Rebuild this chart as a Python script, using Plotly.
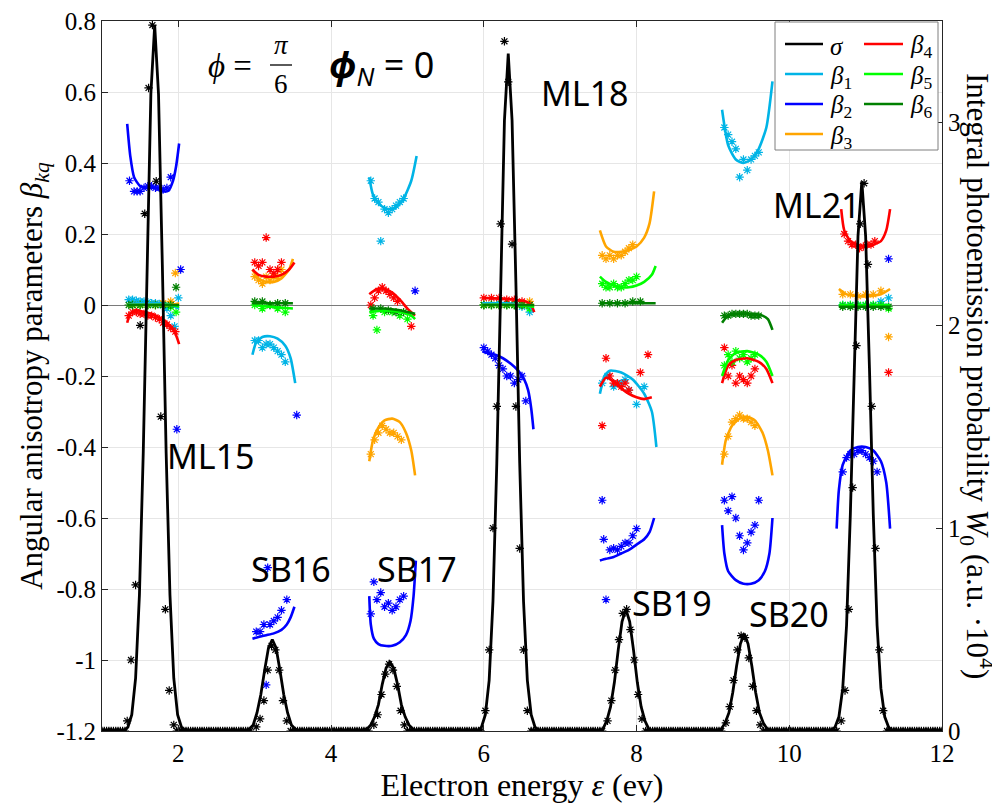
import plotly.graph_objects as go
import numpy as np

# ---------------- DATA ----------------
# sigma (integral photoemission probability W0, right axis) : fitted profile per peak
peak_names = ["ML15", "SB16", "SB17", "ML18", "SB19", "SB20", "ML21"]
peak_centers = [1.69, 3.23, 4.77, 6.32, 7.86, 9.41, 10.95]
profile_dx = [-0.40, -0.35, -0.30, -0.25, -0.20, -0.15, -0.10, -0.05, 0.0,
              0.05, 0.10, 0.15, 0.20, 0.25, 0.30, 0.35, 0.40]
w0_ML15 = [0.0, 0.02, 0.08, 0.26, 0.67, 1.37, 2.30, 3.14, 3.48, 3.14, 2.30, 1.37, 0.67, 0.26, 0.08, 0.02, 0.0]
w0_SB16 = [0.0, 0.0, 0.01, 0.03, 0.09, 0.18, 0.30, 0.41, 0.45, 0.41, 0.30, 0.18, 0.09, 0.03, 0.01, 0.0, 0.0]
w0_SB17 = [0.0, 0.0, 0.01, 0.03, 0.07, 0.13, 0.23, 0.31, 0.34, 0.31, 0.23, 0.13, 0.07, 0.03, 0.01, 0.0, 0.0]
w0_ML18 = [0.0, 0.02, 0.08, 0.25, 0.64, 1.32, 2.21, 3.01, 3.34, 3.01, 2.21, 1.32, 0.64, 0.25, 0.08, 0.02, 0.0]
w0_SB19 = [0.0, 0.0, 0.01, 0.05, 0.12, 0.24, 0.40, 0.54, 0.60, 0.54, 0.40, 0.24, 0.12, 0.05, 0.01, 0.0, 0.0]
w0_SB20 = [0.0, 0.0, 0.01, 0.04, 0.09, 0.19, 0.32, 0.43, 0.48, 0.43, 0.32, 0.19, 0.09, 0.04, 0.01, 0.0, 0.0]
w0_ML21 = [0.0, 0.02, 0.07, 0.21, 0.52, 1.07, 1.79, 2.44, 2.71, 2.44, 1.79, 1.07, 0.52, 0.21, 0.07, 0.02, 0.0]
w0_profiles = [w0_ML15, w0_SB16, w0_SB17, w0_ML18, w0_SB19, w0_SB20, w0_ML21]
x_min, x_max = 1.0, 12.0

# sigma data points (black asterisks) near peaks
sig_pts_x = [1.33, 1.38, 1.44, 1.50, 1.56, 1.61, 1.66, 1.71, 1.77, 1.83, 1.88, 1.94,
             3.02, 3.07, 3.12, 3.17, 3.22, 3.27, 3.32, 3.37, 3.42,
             4.56, 4.61, 4.66, 4.71, 4.76, 4.81, 4.86, 4.91, 4.96,
             6.02, 6.07, 6.12, 6.17, 6.22, 6.27, 6.32, 6.37, 6.42, 6.47, 6.52, 6.57,
             7.62, 7.67, 7.72, 7.77, 7.82, 7.87, 7.92, 7.97, 8.02, 8.07,
             9.17, 9.22, 9.27, 9.32, 9.37, 9.42, 9.47, 9.52, 9.57, 9.62,
             10.68, 10.73, 10.78, 10.83, 10.88, 10.93, 10.98, 11.03, 11.08, 11.13, 11.18, 11.23]
sig_pts_w = [0.05, 0.35, 0.72, 2.00, 2.55, 3.17, 3.48, 2.71, 1.55, 0.60, 0.20, 0.03,
             0.02, 0.06, 0.15, 0.30, 0.42, 0.40, 0.30, 0.15, 0.05,
             0.03, 0.08, 0.18, 0.28, 0.33, 0.30, 0.22, 0.10, 0.03,
             0.10, 0.40, 1.00, 1.60, 2.50, 3.40, 3.20, 2.40, 1.60, 0.90, 0.40, 0.10,
             0.05, 0.15, 0.30, 0.45, 0.58, 0.60, 0.50, 0.35, 0.18, 0.06,
             0.04, 0.12, 0.25, 0.40, 0.47, 0.46, 0.36, 0.22, 0.10, 0.03,
             0.05, 0.20, 0.60, 1.20, 1.90, 2.50, 2.70, 2.30, 1.60, 0.90, 0.40, 0.10]
# energy ranges where the measured sigma points lie on zero
sig_zero_ranges = [(1.0, 1.30), (1.98, 2.95), (3.47, 4.50), (5.0, 5.97), (6.62, 7.57),
                   (8.12, 9.13), (9.66, 10.64), (11.28, 12.0)]
sig_zero_step = 0.03

# ---- beta_k lines (None separates harmonic windows) ----
b1_lx = [1.33, 1.45, 1.6, 1.75, 1.9, 2.01, None,
         2.97, 3.02, 3.1, 3.2, 3.3, 3.4, 3.47, 3.53, None,
         4.5, 4.55, 4.65, 4.75, 4.85, 4.95, 5.05, 5.12, None,
         5.98, 6.1, 6.3, 6.5, 6.6, 6.66, None,
         7.52, 7.58, 7.65, 7.8, 7.95, 8.1, 8.2, 8.26, None,
         9.12, 9.2, 9.3, 9.4, 9.5, 9.6, 9.7, 9.78, None,
         10.65, 10.8, 11.0, 11.2, 11.32]
b1_ly = [0.0, 0.005, 0.005, 0.005, 0.0, -0.01, None,
         -0.14, -0.105, -0.09, -0.088, -0.095, -0.115, -0.15, -0.22, None,
         0.36, 0.31, 0.28, 0.27, 0.275, 0.3, 0.35, 0.42, None,
         0.005, 0.005, 0.005, 0.0, -0.005, -0.02, None,
         -0.25, -0.2, -0.185, -0.19, -0.21, -0.25, -0.3, -0.4, None,
         0.55, 0.45, 0.41, 0.40, 0.41, 0.44, 0.5, 0.63, None,
         0.0, 0.0, 0.0, 0.0, 0.0]
b2_lx = [1.33, 1.37, 1.42, 1.5, 1.6, 1.7, 1.8, 1.87, 1.93, 1.97, 2.01, None,
         2.97, 3.05, 3.15, 3.25, 3.35, 3.42, 3.47, 3.52, None,
         4.5, 4.52, 4.56, 4.62, 4.7, 4.8, 4.9, 4.98, 5.04, 5.08, 5.11, None,
         5.98, 6.05, 6.15, 6.25, 6.35, 6.45, 6.53, 6.58, 6.62, 6.65, None,
         7.52, 7.6, 7.7, 7.8, 7.9, 8.0, 8.1, 8.17, 8.23, None,
         9.12, 9.15, 9.2, 9.3, 9.4, 9.5, 9.6, 9.68, 9.74, 9.78, None,
         10.62, 10.65, 10.7, 10.8, 10.9, 11.0, 11.1, 11.2, 11.27, 11.32]
b2_ly = [0.51, 0.42, 0.36, 0.335, 0.33, 0.33, 0.32, 0.322, 0.35, 0.39, 0.455, None,
         -0.94, -0.935, -0.93, -0.925, -0.915, -0.9, -0.88, -0.85, None,
         -0.82, -0.9, -0.94, -0.955, -0.96, -0.96, -0.95, -0.93, -0.89, -0.82, -0.72, None,
         -0.13, -0.135, -0.14, -0.15, -0.165, -0.185, -0.21, -0.24, -0.29, -0.35, None,
         -0.72, -0.715, -0.71, -0.7, -0.69, -0.675, -0.66, -0.64, -0.6, None,
         -0.62, -0.7, -0.75, -0.775, -0.785, -0.785, -0.775, -0.75, -0.7, -0.6, None,
         -0.63, -0.52, -0.45, -0.41, -0.4, -0.4, -0.41, -0.44, -0.5, -0.63]
b3_lx = [1.33, 1.6, 1.9, 2.01, None,
         2.97, 3.05, 3.15, 3.25, 3.35, 3.45, 3.5, None,
         4.5, 4.55, 4.62, 4.7, 4.8, 4.9, 4.98, 5.05, 5.1, None,
         5.98, 6.3, 6.66, None,
         7.52, 7.6, 7.7, 7.8, 7.9, 8.0, 8.1, 8.17, 8.23, None,
         9.12, 9.17, 9.25, 9.35, 9.45, 9.55, 9.65, 9.72, 9.78, None,
         10.65, 10.75, 10.9, 11.05, 11.2, 11.32]
b3_ly = [0.0, 0.0, 0.0, 0.005, None,
         0.1, 0.075, 0.065, 0.065, 0.075, 0.1, 0.13, None,
         -0.44, -0.38, -0.345, -0.325, -0.32, -0.33, -0.36, -0.41, -0.48, None,
         0.0, 0.0, 0.0, None,
         0.21, 0.165, 0.15, 0.15, 0.155, 0.165, 0.19, 0.23, 0.32, None,
         -0.45, -0.38, -0.34, -0.32, -0.315, -0.325, -0.36, -0.41, -0.48, None,
         0.045, 0.03, 0.025, 0.025, 0.03, 0.045]
b4_lx = [1.33, 1.37, 1.45, 1.55, 1.65, 1.75, 1.85, 1.92, 1.97, 2.01, None,
         2.97, 3.05, 3.15, 3.25, 3.35, 3.45, 3.52, None,
         4.5, 4.6, 4.7, 4.8, 4.9, 5.0, 5.1, None,
         5.98, 6.2, 6.4, 6.55, 6.62, 6.66, None,
         7.52, 7.6, 7.7, 7.8, 7.9, 8.0, 8.1, 8.2, None,
         9.12, 9.2, 9.3, 9.45, 9.6, 9.7, 9.78, None,
         10.68, 10.72, 10.8, 10.9, 11.0, 11.1, 11.2, 11.27, 11.32]
b4_ly = [-0.05, -0.025, -0.015, -0.02, -0.025, -0.035, -0.05, -0.065, -0.085, -0.11, None,
         0.1, 0.085, 0.08, 0.08, 0.085, 0.1, 0.12, None,
         0.03, 0.045, 0.045, 0.035, 0.015, -0.01, -0.03, None,
         0.02, 0.018, 0.015, 0.01, 0.0, -0.02, None,
         -0.23, -0.205, -0.215, -0.235, -0.25, -0.26, -0.265, -0.26, None,
         -0.22, -0.17, -0.155, -0.15, -0.16, -0.18, -0.22, None,
         0.27, 0.21, 0.18, 0.17, 0.165, 0.17, 0.18, 0.21, 0.27]
b5_lx = [1.33, 1.6, 1.9, 2.01, None,
         2.97, 3.2, 3.5, None,
         4.5, 4.7, 4.9, 5.05, 5.1, None,
         5.98, 6.3, 6.66, None,
         7.52, 7.6, 7.7, 7.8, 7.9, 8.0, 8.1, 8.2, 8.25, None,
         9.12, 9.2, 9.3, 9.45, 9.6, 9.7, 9.78, None,
         10.65, 11.0, 11.32]
b5_ly = [0.0, 0.0, 0.0, -0.005, None,
         0.0, -0.005, -0.01, None,
         -0.02, -0.015, -0.02, -0.03, -0.04, None,
         0.0, 0.0, -0.005, None,
         0.08, 0.065, 0.055, 0.05, 0.05, 0.055, 0.065, 0.085, 0.11, None,
         -0.2, -0.155, -0.135, -0.13, -0.14, -0.16, -0.2, None,
         0.0, 0.0, 0.0]
b6_lx = [1.33, 1.6, 1.9, 2.01, None,
         2.97, 3.2, 3.5, None,
         4.5, 4.7, 4.9, 5.1, None,
         5.98, 6.3, 6.66, None,
         7.52, 7.9, 8.25, None,
         9.12, 9.2, 9.35, 9.5, 9.65, 9.72, 9.78, None,
         10.65, 11.0, 11.32]
b6_ly = [0.0, 0.0, 0.0, 0.0, None,
         0.005, 0.005, 0.005, None,
         -0.01, -0.01, -0.015, -0.025, None,
         0.0, 0.0, 0.0, None,
         0.005, 0.005, 0.005, None,
         -0.05, -0.03, -0.025, -0.025, -0.03, -0.04, -0.07, None,
         -0.005, -0.005, -0.005]

# ---- beta_k data points (asterisks) ----
b1_px = [1.35, 1.4, 1.45, 1.5, 1.55, 1.6, 1.65, 1.7, 1.75, 1.8, 1.85, 1.9, 1.95, 2.0,
         3.0, 3.05, 3.1, 3.15, 3.2, 3.25, 3.3, 3.35, 3.4,
         4.52, 4.57, 4.62, 4.65, 4.7, 4.75, 4.8, 4.85, 4.9, 4.95,
         6.0, 6.1, 6.2, 6.3, 6.4, 6.5, 6.6,
         7.55, 7.62, 7.7, 7.75, 7.8, 7.85, 7.9, 8.0, 8.1,
         9.15, 9.2, 9.25, 9.3, 9.35, 9.4, 9.45, 9.5, 9.55, 9.6,
         10.7, 10.8, 10.9, 11.0, 11.1, 11.2, 11.3]
b1_py = [0.015, 0.015, 0.012, 0.01, 0.01, 0.008, 0.005, 0.005, 0.003, 0.0, -0.01, -0.03, -0.06, 0.02,
         -0.1, -0.1, -0.12, -0.11, -0.11, -0.12, -0.13, -0.14, -0.16,
         0.35, 0.3, 0.29, 0.18, 0.27, 0.26, 0.27, 0.28, 0.29, 0.3,
         0.0, 0.0, 0.005, 0.0, 0.0, -0.005, -0.02,
         -0.22, -0.2, -0.23, -0.22, -0.22, -0.21, -0.24, -0.28, -0.23,
         0.5, 0.48, 0.46, 0.44, 0.36, 0.41, 0.38, 0.41, 0.42, 0.43,
         0.0, 0.0, 0.0, 0.0, 0.0, 0.01, 0.02]
b2_px = [1.36, 1.42, 1.46, 1.5, 1.55, 1.6, 1.65, 1.7, 1.75, 1.8, 1.85, 1.9, 2.03, 1.98,
         3.02, 3.07, 3.12, 3.17, 3.2, 3.25, 3.3, 3.35, 3.42, 3.15, 3.55,
         4.52, 4.56, 4.6, 4.65, 4.7, 4.75, 4.8, 4.85, 4.9, 4.95, 5.1,
         6.0, 6.05, 6.1, 6.15, 6.2, 6.25, 6.3, 6.35, 6.4, 6.45, 6.5, 6.55,
         7.55, 7.57, 7.6, 7.65, 7.7, 7.75, 7.8, 7.85, 7.9, 7.95, 8.0,
         9.15, 9.2, 9.25, 9.3, 9.35, 9.4, 9.45, 9.5, 9.55, 9.6,
         10.7, 10.75, 10.8, 10.85, 10.9, 10.95, 11.0, 11.05, 11.1, 11.15, 11.3]
b2_py = [0.35, 0.32, 0.32, 0.32, 0.33, 0.335, 0.335, 0.33, 0.33, 0.325, 0.33, 0.36, 0.1, -0.35,
         -0.92, -0.92, -0.9, -0.74, -0.9, -0.89, -0.88, -0.86, -0.83, -1.07, -0.31,
         -0.87, -0.78, -0.83, -0.81, -0.85, -0.84, -0.86, -0.85, -0.83, -0.82, 0.04,
         -0.12, -0.13, -0.14, -0.15, -0.17, -0.18, -0.2, -0.2, -0.22, -0.21, -0.2, -0.27,
         -0.55, -0.66, -0.83, -0.69, -0.685, -0.69, -0.68, -0.67, -0.67, -0.65, -0.63,
         -0.55, -0.58, -0.54, -0.6, -0.65, -0.69, -0.67, -0.64, -0.62, -0.55,
         -0.47, -0.43, -0.42, -0.42, -0.41, -0.41, -0.42, -0.43, -0.44, -0.47, 0.13]
b3_px = [1.4, 1.5, 1.6, 1.7, 1.8, 1.9, 1.96,
         3.0, 3.05, 3.1, 3.15, 3.2, 3.25, 3.3, 3.35,
         4.52, 4.57, 4.62, 4.67, 4.72, 4.77, 4.82, 4.87, 4.92,
         6.0, 6.1, 6.2, 6.3, 6.4, 6.5, 6.6,
         7.55, 7.6, 7.65, 7.7, 7.75, 7.8, 7.85, 7.9, 7.95,
         9.15, 9.2, 9.25, 9.3, 9.35, 9.4, 9.45, 9.5, 9.55,
         10.7, 10.8, 10.9, 11.0, 11.1, 11.2, 11.3]
b3_py = [0.0, 0.0, 0.0, 0.0, 0.005, 0.01, 0.09,
         0.08, 0.07, 0.06, 0.08, 0.07, 0.08, 0.08, 0.1,
         -0.42, -0.38, -0.36, -0.34, -0.35, -0.36, -0.36, -0.37, -0.38,
         0.0, 0.0, 0.0, 0.0, 0.0, 0.0, 0.01,
         0.14, 0.13, 0.14, 0.13, 0.14, 0.14, 0.15, 0.16, 0.17,
         -0.42, -0.37, -0.33, -0.32, -0.31, -0.32, -0.32, -0.33, -0.34,
         0.03, 0.03, 0.025, 0.03, 0.03, 0.04, -0.09]
b4_px = [1.35, 1.4, 1.45, 1.5, 1.55, 1.6, 1.65, 1.7, 1.75, 1.8, 1.85, 1.9, 1.96,
         3.0, 3.05, 3.1, 3.15, 3.2, 3.25, 3.3, 3.35,
         4.52, 4.57, 4.62, 4.67, 4.72, 4.77, 4.82, 4.87, 5.05,
         6.0, 6.1, 6.2, 6.3, 6.4, 6.5, 6.6,
         7.55, 7.6, 7.65, 7.7, 7.75, 7.8, 7.85, 7.9, 8.05, 8.15,
         9.15, 9.2, 9.25, 9.3, 9.35, 9.4, 9.45, 9.5, 9.55,
         10.72, 10.77, 10.82, 10.87, 10.92, 10.97, 11.02, 11.07, 11.12, 11.3]
b4_py = [-0.03, -0.02, -0.02, -0.025, -0.025, -0.03, -0.03, -0.035, -0.04, -0.05, -0.055, -0.065, -0.075,
         0.12, 0.11, 0.12, 0.19, 0.1, 0.09, 0.1, 0.12,
         0.0, 0.02, 0.04, 0.05, 0.04, 0.03, 0.02, 0.01, -0.06,
         0.02, 0.02, 0.02, 0.015, 0.015, 0.01, 0.0,
         -0.34, -0.15, -0.2, -0.22, -0.22, -0.23, -0.22, -0.24, -0.19, -0.14,
         -0.12, -0.2, -0.17, -0.22, -0.2, -0.21, -0.22, -0.2, -0.18,
         0.2, 0.18, 0.17, 0.17, 0.16, 0.165, 0.17, 0.17, 0.18, -0.19]
b5_px = [1.4, 1.5, 1.6, 1.7, 1.8, 1.9, 1.97,
         3.0, 3.1, 3.2, 3.3, 3.4,
         4.55, 4.6, 4.7, 4.8, 4.9, 5.0,
         6.0, 6.1, 6.2, 6.3, 6.4, 6.5, 6.6,
         7.55, 7.6, 7.65, 7.7, 7.75, 7.8, 7.85, 7.9, 7.95, 8.0,
         9.15, 9.2, 9.25, 9.3, 9.35, 9.4, 9.45, 9.5, 9.55,
         10.7, 10.8, 10.9, 11.0, 11.1, 11.2, 11.3]
b5_py = [0.0, 0.0, 0.0, 0.0, 0.0, -0.005, -0.02,
         0.0, -0.01, 0.0, -0.01, -0.02,
         -0.03, -0.07, -0.02, -0.02, -0.03, -0.04,
         0.0, 0.0, 0.0, 0.0, 0.0, 0.0, -0.01,
         0.06, 0.05, 0.05, 0.06, 0.05, 0.05, 0.06, 0.07, 0.07, 0.08,
         -0.17, -0.14, -0.16, -0.13, -0.15, -0.14, -0.16, -0.15, -0.14,
         0.0, 0.0, 0.0, 0.0, 0.0, 0.0, -0.01]
b6_px = [1.35, 1.4, 1.5, 1.6, 1.7, 1.8, 1.9, 1.97,
         3.0, 3.1, 3.2, 3.3, 3.4,
         4.55, 4.65, 4.75, 4.85, 4.95,
         6.0, 6.1, 6.2, 6.3, 6.4, 6.5, 6.6,
         7.55, 7.65, 7.75, 7.85, 7.95, 8.05,
         9.15, 9.2, 9.25, 9.3, 9.35, 9.4, 9.45, 9.5, 9.55, 9.6,
         10.7, 10.8, 10.9, 11.0, 11.1, 11.2, 11.3]
b6_py = [0.0, 0.0, 0.0, 0.0, 0.0, 0.0, 0.0, 0.05,
         0.01, 0.01, 0.0, 0.005, 0.005,
         -0.01, -0.01, -0.015, -0.02, -0.02,
         0.0, 0.0, 0.0, 0.0, 0.0, 0.0, 0.0,
         0.005, 0.005, 0.005, 0.005, 0.01, 0.01,
         -0.03, -0.03, -0.025, -0.025, -0.025, -0.025, -0.025, -0.03, -0.03, -0.03,
         -0.005, -0.005, -0.005, -0.005, -0.005, -0.005, -0.005]

beta_names = ["β<sub>1</sub>", "β<sub>2</sub>", "β<sub>3</sub>", "β<sub>4</sub>", "β<sub>5</sub>", "β<sub>6</sub>"]
beta_colors = ["#00B4E6", "#0000FF", "#FFA500", "#FF0000", "#00FF00", "#008000"]
sigma_color = "#000000"

# peak labels (text, x, y) in data units of the left axis
label_text = ["ML15", "SB16", "SB17", "ML18", "SB19", "SB20", "ML21"]
label_x = [2.43, 3.47, 5.12, 7.32, 8.46, 9.99, 10.36]
label_y = [-0.425, -0.745, -0.745, 0.597, -0.84, -0.87, 0.282]

# ---------------- FIGURE ----------------
# the page body adds an 8 px offset; plot area in screenshot pixels: x 102..942, y 21..731
OFF = 8
W, H = 1000 - OFF, 808 - OFF
L, R, T, B = 102 - OFF, 58, 21 - OFF, 77
PX0, PX1, PY0, PY1 = 102, 942, 21, 731


def px2paper(px, py):
    return (px - PX0) / (PX1 - PX0), (PY1 - py) / (PY1 - PY0)


fig = go.Figure()

line_sets = [(b1_lx, b1_ly), (b2_lx, b2_ly), (b3_lx, b3_ly), (b4_lx, b4_ly), (b5_lx, b5_ly), (b6_lx, b6_ly)]
pt_sets = [(b1_px, b1_py), (b2_px, b2_py), (b3_px, b3_py), (b4_px, b4_py), (b5_px, b5_py), (b6_px, b6_py)]

for k in range(6):
    px, py = pt_sets[k]
    fig.add_trace(go.Scatter(x=px, y=py, mode="markers", yaxis="y", showlegend=False,
                             marker=dict(symbol="asterisk-open", size=7, color=beta_colors[k],
                                         line=dict(width=1.2, color=beta_colors[k]))))
for k in range(6):
    lx, ly = line_sets[k]
    fig.add_trace(go.Scatter(x=lx, y=ly, mode="lines", yaxis="y", name=beta_names[k], showlegend=False,
                             line=dict(color=beta_colors[k], width=2.6, shape="spline", smoothing=0.6)))

# sigma curve
sx = [x_min]
sw = [0.0]
for c, prof in zip(peak_centers, w0_profiles):
    for d, w in zip(profile_dx, prof):
        sx.append(round(c + d, 3))
        sw.append(w)
sx.append(x_max)
sw.append(0.0)

zx = []
for a, b in sig_zero_ranges:
    zx.extend(list(np.arange(a, b + 1e-9, sig_zero_step)))
zw = [0.0] * len(zx)

fig.add_trace(go.Scatter(x=zx + sig_pts_x, y=zw + sig_pts_w, mode="markers", yaxis="y2", showlegend=False,
                         marker=dict(symbol="asterisk-open", size=7, color=sigma_color,
                                     line=dict(width=1.2, color=sigma_color))))
fig.add_trace(go.Scatter(x=sx, y=sw, mode="lines", yaxis="y2", name="σ", showlegend=False,
                         line=dict(color=sigma_color, width=2.8)))

serif = "Liberation Serif"
sans = "Noto Sans"

for t, x, y in zip(label_text, label_x, label_y):
    fig.add_annotation(x=x, y=y, xref="x", yref="y", text=t, showarrow=False,
                       xanchor="center", yanchor="middle",
                       font=dict(family=sans, size=34, color="black"))


def paper_text(px, py, text, size, family, xanchor="center", angle=0):
    xx, yy = px2paper(px, py)
    fig.add_annotation(x=xx, y=yy, xref="paper", yref="paper", text=text, showarrow=False,
                       xanchor=xanchor, yanchor="middle", textangle=angle,
                       font=dict(family=family, size=size, color="black"))


# title formula  phi = pi/6   phi_N = 0
paper_text(230, 66, "<i>ϕ</i> =", 33, serif)
paper_text(281, 45, "<i>π</i>", 27, serif)
paper_text(281, 84, "6", 27, serif)
fx0, fy = px2paper(270, 65)
fx1, _ = px2paper(292, 65)
fig.add_shape(type="line", xref="paper", yref="paper", x0=fx0, x1=fx1, y0=fy, y1=fy,
              line=dict(color="black", width=1.3))
paper_text(381, 66, "<b><i>ϕ</i></b><sub><i>N</i></sub> = 0", 36, sans)

# legend box (drawn manually, two columns)
bx0, by0 = px2paper(775, 150)
bx1, by1 = px2paper(938, 22)
fig.add_shape(type="rect", xref="paper", yref="paper", x0=bx0, x1=bx1, y0=by0, y1=by1,
              line=dict(color="#7F7F7F", width=1), fillcolor="white", layer="above")
leg_names = ["<i>σ</i>"] + ["<i>β</i><sub>%d</sub>" % k for k in range(1, 7)]
leg_colors = [sigma_color] + beta_colors
leg_cols = [0, 0, 0, 0, 1, 1, 1]
leg_rows = [0, 1, 2, 3, 0, 1, 2]
col_line_px = [(785, 823), (864, 903)]
row_py = [44, 74, 104, 134]
for name, col, c, r in zip(leg_names, leg_colors, leg_cols, leg_rows):
    a, b = col_line_px[c]
    xa, yy = px2paper(a, row_py[r])
    xb, _ = px2paper(b, row_py[r])
    fig.add_shape(type="line", xref="paper", yref="paper", x0=xa, x1=xb,
                  y0=yy, y1=yy, line=dict(color=col, width=2.6), layer="above")
    paper_text(b + 5, row_py[r] + 3, name, 25, serif, xanchor="left")

# right axis title reading downward
paper_text(977, 376, "Integral photoemission probability <i>W</i><sub>0</sub> (a.u. ·10<sup>4</sup>)",
           31, serif, angle=90)

axis_col = "#262626"
grid_col = "#E6E6E6"
tick_font = dict(family=serif, size=25, color="black")
fig.update_layout(
    width=W, height=H,
    margin=dict(l=L, r=R, t=T, b=B, autoexpand=False),
    paper_bgcolor="white", plot_bgcolor="white",
    showlegend=False,
    xaxis=dict(range=[x_min, x_max], tickvals=[2, 4, 6, 8, 10, 12], ticks="inside", ticklen=6,
               tickcolor=axis_col, showline=True, linecolor=axis_col, linewidth=1, mirror="ticks",
               showgrid=True, gridcolor=grid_col, zeroline=False, automargin=False,
               tickfont=tick_font, ticklabeloverflow="allow",
               title=dict(text="Electron energy <i>ε</i> (ev)", font=dict(family=serif, size=32, color="black"),
                          standoff=6)),
    yaxis=dict(range=[-1.2, 0.8], tickvals=[0.8, 0.6, 0.4, 0.2, 0, -0.2, -0.4, -0.6, -0.8, -1, -1.2],
               ticktext=["0.8", "0.6", "0.4", "0.2", "0", "-0.2", "-0.4", "-0.6", "-0.8", "-1", "-1.2"],
               ticks="inside", ticklen=6, tickcolor=axis_col, showline=True, linecolor=axis_col, linewidth=1,
               showgrid=True, gridcolor=grid_col, zeroline=True, zerolinecolor="#7A7A7A", zerolinewidth=1.2,
               automargin=False, tickfont=tick_font, ticklabeloverflow="allow",
               title=dict(text="Angular anisotropy parameters <i>β<sub>kq</sub></i>",
                          font=dict(family=serif, size=31, color="black"), standoff=4)),
    yaxis2=dict(range=[0, 3.5], tickvals=[0, 1, 2, 3], overlaying="y", side="right",
                ticks="inside", ticklen=6, tickcolor=axis_col, showline=True, linecolor=axis_col, linewidth=1,
                showgrid=False, zeroline=False, automargin=False, tickfont=tick_font,
                ticklabeloverflow="allow"),
)

fig.write_html("out.html")
